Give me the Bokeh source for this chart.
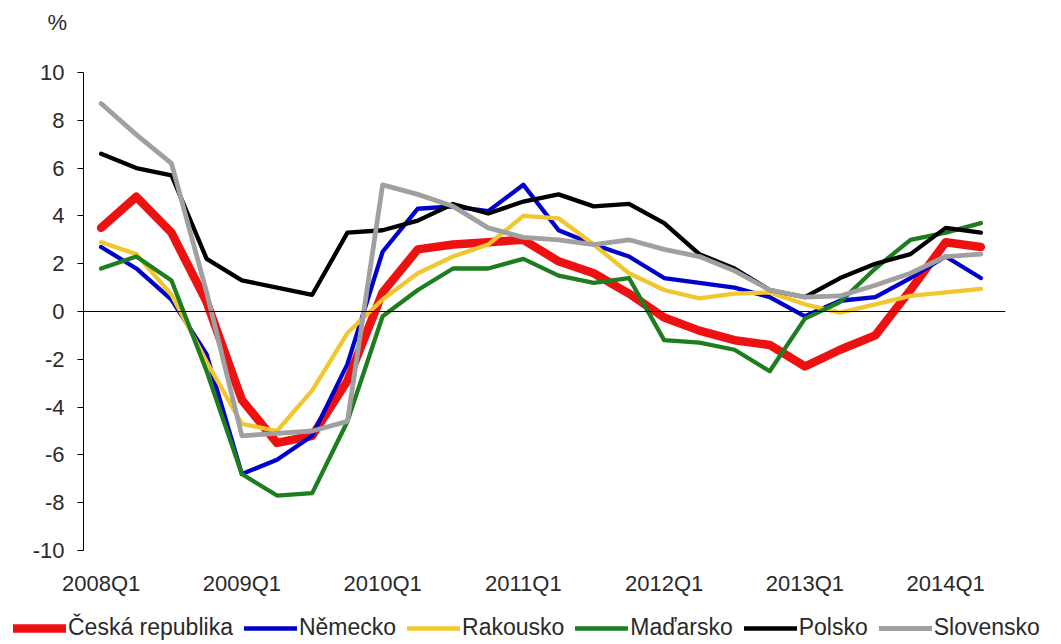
from bokeh.plotting import figure
from bokeh.layouts import column, row
from bokeh.models import Range1d, FixedTicker, Span, Legend, LegendItem, Label
from bokeh.embed import file_html
from bokeh.resources import INLINE

quarters = [f"{y}Q{q}" for y in range(2008, 2015) for q in range(1, 5)][:26]

cz = [3.5, 4.8, 3.3, 0.4, -3.7, -5.5, -5.2, -2.9, 0.8, 2.6, 2.8, 2.9, 3.0, 2.1, 1.6, 0.75,
      -0.25, -0.8, -1.2, -1.4, -2.3, -1.6, -1.0, 0.9, 2.9, 2.7]
de = [2.7, 1.8, 0.5, -1.8, -6.8, -6.2, -5.2, -2.2, 2.5, 4.3, 4.4, 4.2, 5.3, 3.4, 2.8, 2.3,
      1.4, 1.2, 1.0, 0.6, -0.2, 0.45, 0.6, 1.4, 2.3, 1.4]
at = [2.9, 2.4, 0.7, -2.1, -4.7, -5.0, -3.3, -0.9, 0.5, 1.6, 2.3, 2.8, 4.0, 3.9, 2.8, 1.6,
      0.9, 0.55, 0.75, 0.8, 0.3, -0.05, 0.3, 0.65, 0.8, 0.95]
hu = [1.8, 2.3, 1.3, -2.5, -6.8, -7.7, -7.6, -4.6, -0.2, 0.9, 1.8, 1.8, 2.2, 1.5, 1.2, 1.4,
      -1.2, -1.3, -1.6, -2.5, -0.3, 0.4, 1.8, 3.0, 3.3, 3.7]
pl = [6.6, 6.0, 5.7, 2.2, 1.3, 1.0, 0.7, 3.3, 3.4, 3.8, 4.5, 4.1, 4.6, 4.9, 4.4, 4.5,
      3.7, 2.4, 1.8, 0.9, 0.6, 1.4, 2.0, 2.4, 3.5, 3.3]
sk = [8.7, 7.4, 6.2, 0.8, -5.2, -5.1, -5.0, -4.6, 5.3, 4.9, 4.4, 3.5, 3.1, 3.0, 2.8, 3.0,
      2.6, 2.3, 1.7, 0.9, 0.6, 0.65, 1.1, 1.6, 2.3, 2.4]

names = ["Česká republika", "Německo", "Rakousko", "Maďarsko", "Polsko", "Slovensko"]
series = [cz, de, at, hu, pl, sk]
colors = ["#EE1111", "#0000CC", "#F2C62F", "#1E7D1E", "#000000", "#A0A0A0"]
widths = [8.5, 4.3, 4.3, 4.3, 4.3, 4.8]
y_ticks = list(range(-10, 11, 2))
unit_label = "%"

xs = list(range(len(quarters)))
FONT = "Liberation Sans"
FS = "22px"
TXT = "#2a2a2a"
W = 1061
NAN = float("nan")


def blank(h):
    f = figure(width=W, height=h, output_backend="svg", toolbar_location=None,
               x_range=Range1d(0, W), y_range=Range1d(0, h),
               x_axis_type=None, y_axis_type=None, min_border=0)
    f.outline_line_color = None
    f.xgrid.visible = False
    f.ygrid.visible = False
    return f


# top strip with the unit label
top = blank(40)
top.add_layout(Label(x=47, y=18, text=unit_label, text_font=FONT, text_font_size=FS,
                     text_color=TXT, text_baseline="middle", text_align="left"))

# main chart
p = figure(width=W, height=560, output_backend="svg", toolbar_location=None,
           x_range=Range1d(-0.5, 25.7), y_range=Range1d(-10, 10),
           min_border_left=83, min_border_right=56, min_border_top=32, min_border_bottom=50)
p.outline_line_color = None
p.xgrid.visible = False
p.ygrid.visible = False
p.background_fill_color = "white"

p.add_layout(Span(location=0, dimension="width", line_color="black", line_width=1))

for ys, c, w in zip(series, colors, widths):
    p.line(xs, ys, line_color=c, line_width=w, line_join="round", line_cap="round")

ya = p.yaxis[0]
ya.ticker = FixedTicker(ticks=y_ticks)
ya.major_label_overrides = {t: str(t) for t in y_ticks}
ya.axis_line_color = "black"
ya.major_tick_line_color = "black"
ya.major_tick_out = 6
ya.major_tick_in = 0
ya.minor_tick_line_color = None
ya.major_label_standoff = 13
ya.major_label_text_font = FONT
ya.major_label_text_font_size = FS
ya.major_label_text_color = TXT

xa = p.xaxis[0]
tick_idx = [i for i in xs if i % 4 == 0]
xa.ticker = FixedTicker(ticks=tick_idx)
xa.major_label_overrides = {i: quarters[i] for i in tick_idx}
xa.axis_line_color = None
xa.major_tick_line_color = None
xa.minor_tick_line_color = None
xa.major_label_standoff = 14
xa.major_label_text_font = FONT
xa.major_label_text_font_size = FS
xa.major_label_text_color = TXT

# legend strip (swatches only: a single NaN point each, nothing drawn in the strip)
leg = blank(44)
items = []
for name, c, w in zip(names, colors, widths):
    r = leg.line([0], [NAN], line_color=c, line_width=w, line_cap="round")
    items.append(LegendItem(label=name, renderers=[r]))
legend = Legend(items=items, orientation="horizontal", location=(13, 3),
                label_text_font=FONT, label_text_font_size="23px", label_text_color=TXT,
                glyph_width=53, glyph_height=24, label_standoff=2, spacing=11,
                padding=0, margin=0, border_line_color=None, background_fill_alpha=0)
leg.add_layout(legend, "center")

layout = column(row(top), p, row(leg), spacing=0)
open("out.html", "w").write(file_html(layout, INLINE))
